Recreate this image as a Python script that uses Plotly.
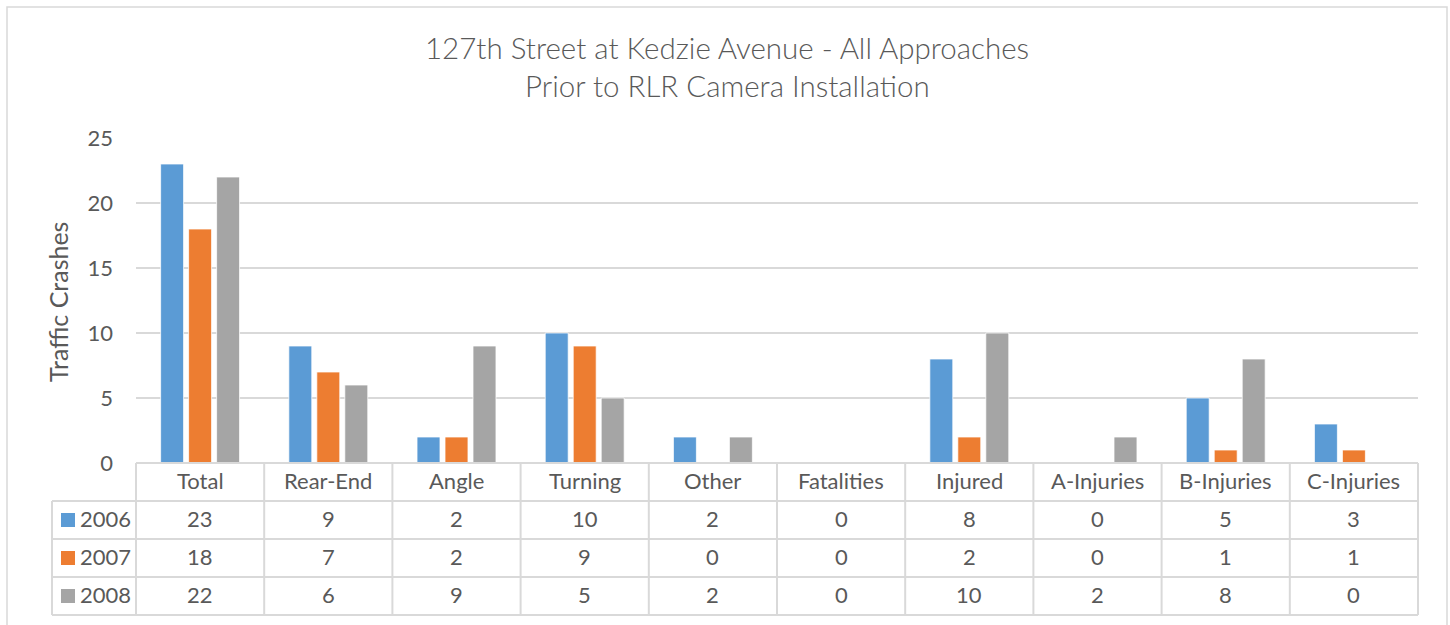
import plotly.graph_objects as go

categories = ["Total", "Rear-End", "Angle", "Turning", "Other", "Fatalities",
              "Injured", "A-Injuries", "B-Injuries", "C-Injuries"]
years = ["2006", "2007", "2008"]
values_2006 = [23, 9, 2, 10, 2, 0, 8, 0, 5, 3]
values_2007 = [18, 7, 2, 9, 0, 0, 2, 0, 1, 1]
values_2008 = [22, 6, 9, 5, 2, 0, 10, 2, 8, 0]
series = [values_2006, values_2007, values_2008]
colors = ["#5B9BD5", "#ED7D31", "#A5A5A5"]
y_ticks = [0, 5, 10, 15, 20, 25]

W, H = 1450, 625
TXT = "#595959"
GRID = "#D9D9D9"
FONT = "Lato"


def px(x):
    return x / W


def py(y):
    return 1 - y / H


# layout geometry (pixels)
plot_l, plot_r = 136, 1418
plot_t, plot_b = 138, 463
row_edges = [463, 501, 539, 577, 615]
legend_l = 52
text_shift = -1.5

fig = go.Figure()
for name, vals, col in zip(years, series, colors):
    fig.add_trace(go.Bar(
        name=name, x=categories, y=vals,
        marker=dict(color=col, line=dict(color="white", width=0.75)),
        showlegend=False, hoverinfo="x+y+name",
    ))

shapes = []
annotations = []

# outer chart border (bottom edge lies below the visible area)
shapes.append(dict(type="path", xref="paper", yref="paper",
                   path=f"M {px(7)},{py(625)} L {px(7)},{py(7)} L {px(1447)},{py(7)} L {px(1447)},{py(625)}",
                   line=dict(color=GRID, width=1.5)))

n = len(categories)
colw = (plot_r - plot_l) / n
# table horizontal lines
shapes.append(dict(type="line", xref="paper", yref="paper",
                   x0=px(plot_l), x1=px(plot_r), y0=py(row_edges[0]), y1=py(row_edges[0]),
                   line=dict(color=GRID, width=2)))
for ye in row_edges[1:]:
    shapes.append(dict(type="line", xref="paper", yref="paper",
                       x0=px(legend_l), x1=px(plot_r), y0=py(ye), y1=py(ye),
                       line=dict(color=GRID, width=2)))
# table vertical lines
for i in range(n + 1):
    xe = plot_l + i * colw
    shapes.append(dict(type="line", xref="paper", yref="paper",
                       x0=px(xe), x1=px(xe), y0=py(row_edges[0]), y1=py(row_edges[-1]),
                       line=dict(color=GRID, width=2)))
shapes.append(dict(type="line", xref="paper", yref="paper",
                   x0=px(legend_l), x1=px(legend_l), y0=py(row_edges[1]), y1=py(row_edges[-1]),
                   line=dict(color=GRID, width=2)))

TS = 22
# header labels
for c in categories:
    annotations.append(dict(x=c, xref="x",
                            y=py((row_edges[0] + row_edges[1]) / 2 + text_shift), yref="paper",
                            text=c, showarrow=False, xanchor="center", yanchor="middle",
                            font=dict(family=FONT, size=TS, color=TXT)))
# values + legend column
for r, (name, vals, col) in enumerate(zip(years, series, colors)):
    yc = (row_edges[r + 1] + row_edges[r + 2]) / 2
    for c, v in zip(categories, vals):
        annotations.append(dict(x=c, xref="x", y=py(yc + text_shift), yref="paper",
                                text=str(v), showarrow=False, xanchor="center", yanchor="middle",
                                font=dict(family=FONT, size=TS, color=TXT)))
    shapes.append(dict(type="rect", xref="paper", yref="paper",
                       x0=px(61), x1=px(75), y0=py(yc - 7), y1=py(yc + 7),
                       fillcolor=col, line=dict(width=0)))
    annotations.append(dict(x=px(78), xref="paper", y=py(yc + text_shift), yref="paper",
                            text=name, showarrow=False, xanchor="left", yanchor="middle",
                            font=dict(family=FONT, size=TS, color=TXT)))

# title lines
annotations.append(dict(x=px(727), xref="paper", y=py(47), yref="paper",
                        text="127th Street at Kedzie Avenue - All Approaches",
                        showarrow=False, xanchor="center", yanchor="middle",
                        font=dict(family=FONT, size=29.5, color=TXT, weight=300)))
annotations.append(dict(x=px(727), xref="paper", y=py(86), yref="paper",
                        text="Prior to RLR Camera Installation",
                        showarrow=False, xanchor="center", yanchor="middle",
                        font=dict(family=FONT, size=29.5, color=TXT, weight=300)))
# y axis title
annotations.append(dict(x=px(58), xref="paper", y=py(302), yref="paper",
                        text="Traffic Crashes", textangle=-90,
                        showarrow=False, xanchor="center", yanchor="middle",
                        font=dict(family=FONT, size=25, color=TXT)))

fig.update_layout(
    width=W, height=H, autosize=False,
    margin=dict(l=0, r=0, t=0, b=0, pad=0, autoexpand=False),
    paper_bgcolor="white", plot_bgcolor="white",
    barmode="group", bargap=0.345, bargroupgap=0.18,
    font=dict(family=FONT, color=TXT),
    xaxis=dict(domain=[px(plot_l), px(plot_r)], showticklabels=False, ticks="",
               showgrid=False, showline=False, zeroline=False, automargin=False,
               categoryorder="array", categoryarray=categories),
    yaxis=dict(domain=[py(plot_b), py(plot_t)], range=[0, 25], automargin=False,
               tickvals=y_ticks, ticks="", showline=False, zeroline=False,
               gridcolor=GRID, gridwidth=1.5,
               tickfont=dict(family=FONT, size=TS, color=TXT),
               ticklabelstandoff=22),
    shapes=shapes, annotations=annotations,
)

fig.write_html("out.html", config={"displayModeBar": False},
               post_script="document.body.style.margin='0';document.body.style.overflow='hidden';")
